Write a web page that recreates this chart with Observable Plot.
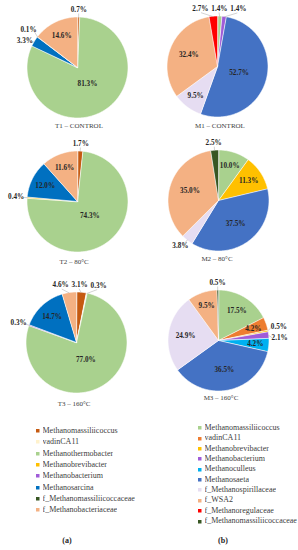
<!DOCTYPE html>
<html><head><meta charset="utf-8">
<script src="https://cdn.jsdelivr.net/npm/d3@7"></script>
<script src="https://cdn.jsdelivr.net/npm/@observablehq/plot@0.6"></script>
<style>
body{margin:0;background:#fff;}
#root{position:relative;width:298px;height:550px;overflow:hidden;font-family:"Liberation Serif","Times New Roman",serif;}
.pie{position:absolute;}
.pie svg{overflow:visible;}
.ttl{position:absolute;width:120px;text-align:center;font-size:7px;line-height:8px;color:#404040;white-space:nowrap;}
.leg{position:absolute;}
.leg, .leg div{font-family:"Liberation Serif","Times New Roman",serif !important;font-size:8px !important;color:#404040;margin:0 !important;}
#legA div div{line-height:11.35px !important;padding:0 !important;}
#legB div div{line-height:10.35px !important;padding:0 !important;}
.leg svg{margin-right:3px !important;}
.cap{position:absolute;width:40px;text-align:center;font-size:8px;font-weight:bold;line-height:9px;color:#262626;}
</style></head><body><div id="root"></div>
<script>
// ---- categories & colours ----
const catsA = ["Methanomassiliicoccus","vadinCA11","Methanothermobacter","Methanobrevibacter","Methanobacterium","Methanosarcina","f_Methanomassiliicoccaceae","f_Methanobacteriaceae"];
const colorsA = ["#C55A11","#FFF2CC","#A9D18E","#FFC000","#A05CD8","#0070C0","#375623","#F4B183"];
const catsB = ["Methanomassiliicoccus","vadinCA11","Methanobrevibacter","Methanobacterium","Methanoculleus","Methanosaeta","f_Methanospirillaceae","f_WSA2","f_Methanoregulaceae","f_Methanomassiliicoccaceae"];
const colorsB = ["#A9D18E","#ED7D31","#FFC000","#A05CD8","#00B0F0","#4472C4","#E6DDF2","#F4B183","#FF0000","#385723"];
// ---- values (% , category order, 0 = absent) ----
const t1 = [0.7,0,81.3,0,0,3.3,0.1,14.6];
const t2 = [1.7,0,74.3,0.4,0,12.0,0,11.6];
const t3 = [3.1,0.3,77.0,0,0.3,14.7,0,4.6];
const m1 = [1.4,0,0,1.4,0,52.7,9.5,32.4,2.7,0];
const m2 = [10.0,0,11.3,0,0,37.5,3.8,35.0,0,2.5];
const m3 = [17.5,4.2,0.5,2.1,4.2,36.5,24.9,9.5,0,0.5];
const titles = ["T1 – CONTROL","M1 – CONTROL","T2 – 80°C","M2 – 80°C","T3 – 160°C","M3 – 160°C"];
const captions = ["(a)","(b)"];

const root = document.getElementById("root");
const R = 50.5, W = 160, H = 140;

function buildPie(values, cats, colors) {
  const total = d3.sum(values);
  let cum = 0;
  const poly = [], labels = [];
  values.forEach((v, i) => {
    if (!(v > 0)) return;
    const a0 = cum / total * 2 * Math.PI; cum += v; const a1 = cum / total * 2 * Math.PI;
    const n = Math.max(2, Math.ceil((a1 - a0) / (Math.PI / 180)));
    poly.push({key: i, cat: cats[i], x: 0, y: 0});
    for (let k = 0; k <= n; k++) {
      const a = a0 + (a1 - a0) * k / n;
      poly.push({key: i, cat: cats[i], x: R * Math.sin(a), y: R * Math.cos(a)});
    }
    const mid = (a0 + a1) / 2, sx = Math.sin(mid), cy = Math.cos(mid);
    const text = v.toFixed(1) + "%";
    const w = text.length * 3.5 + 1, h = 8;
    const outside = v < 4 || (v < 5 && cy > 0.9);
    if (outside) {
      labels.push({text, mid, w, h, outside, x: sx * (R * 1.07) + sx * w / 2, y: cy * (R * 1.07) + cy * h / 2});
    } else {
      const al = (a1 - a0) / 2;
      const c = 2 * Math.sin(al) / (3 * al);
      const rho = Math.min(0.78, Math.max(0.38, 1.1 * c)) * R;
      labels.push({text, mid, w, h, outside, x: sx * rho, y: cy * rho});
    }
  });
  // resolve overlaps between outside labels
  const outs = labels.filter(d => d.outside);
  for (let it = 0; it < 200; it++) {
    let moved = false;
    for (let i = 0; i < outs.length; i++) for (let j = i + 1; j < outs.length; j++) {
      const a = outs[i], b = outs[j];
      const dx = b.x - a.x, dy = b.y - a.y;
      const ox = (a.w + b.w) / 2 + 4 - Math.abs(dx), oy = (a.h + b.h) / 2 + 3 - Math.abs(dy);
      if (ox > 0 && oy > 0) {
        moved = true;
        const vert = Math.abs(Math.cos(a.mid)) > 0.7 && Math.abs(Math.cos(b.mid)) > 0.7;
        if (vert) {
          const s = dx !== 0 ? Math.sign(dx) : Math.sign(Math.sin(b.mid) - Math.sin(a.mid)) || 1;
          a.x -= s * ox / 2; b.x += s * ox / 2;
        } else {
          const s = dy !== 0 ? Math.sign(dy) : Math.sign(Math.cos(b.mid) - Math.cos(a.mid)) || 1;
          a.y -= s * oy / 2; b.y += s * oy / 2;
        }
      }
    }
    if (!moved) break;
  }
  const leaders = outs.map(d => ({
    x1: R * 0.99 * Math.sin(d.mid), y1: R * 0.99 * Math.cos(d.mid),
    x2: d.x - Math.sin(d.mid) * d.w / 2, y2: d.y - Math.cos(d.mid) * d.h / 2
  }));
  return Plot.plot({
    width: W, height: H, margin: 0,
    x: {domain: [-W / 2, W / 2], axis: null},
    y: {domain: [-H / 2, H / 2], axis: null},
    color: {domain: cats, range: colors},
    style: {background: "transparent", overflow: "visible"},
    marks: [
      Plot.line(poly, {x: "x", y: "y", z: "key", fill: "cat", stroke: "white", strokeWidth: 0.6, curve: "linear-closed"}),
      Plot.link(leaders, {x1: "x1", y1: "y1", x2: "x2", y2: "y2", stroke: "#A6A6A6", strokeWidth: 0.5}),
      Plot.text(labels, {x: "x", y: "y", text: "text", fontSize: 7.2, fontWeight: "bold", fontFamily: "Liberation Serif", fill: "#262626"})
    ]
  });
}

const pies = [
  {v: t1, cats: catsA, cols: colorsA, cx: 77, cy: 67, tx: 79, ty: 126},
  {v: m1, cats: catsB, cols: colorsB, cx: 217, cy: 66, tx: 220, ty: 126},
  {v: t2, cats: catsA, cols: colorsA, cx: 77, cy: 201, tx: 74, ty: 262},
  {v: m2, cats: catsB, cols: colorsB, cx: 218, cy: 200, tx: 217, ty: 259},
  {v: t3, cats: catsA, cols: colorsA, cx: 76, cy: 342, tx: 74, ty: 404},
  {v: m3, cats: catsB, cols: colorsB, cx: 218, cy: 340, tx: 221, ty: 398}
];
pies.forEach((p, i) => {
  const d = document.createElement("div");
  d.className = "pie";
  d.style.left = (p.cx - W / 2) + "px";
  d.style.top = (p.cy - H / 2) + "px";
  d.appendChild(buildPie(p.v, p.cats, p.cols));
  root.appendChild(d);
  const t = document.createElement("div");
  t.className = "ttl";
  t.textContent = titles[i];
  t.style.left = (p.tx - 60) + "px";
  t.style.top = (p.ty - 4) + "px";
  root.appendChild(t);
});

function addLegend(id, cats, cols, left, top) {
  const d = document.createElement("div");
  d.className = "leg"; d.id = id;
  d.style.left = left + "px"; d.style.top = top + "px";
  d.appendChild(Plot.legend({color: {domain: cats, range: cols}, legend: "swatches", columns: 1, swatchSize: 3.5}));
  root.appendChild(d);
}
addLegend("legA", catsA, colorsA, 36, 425);
addLegend("legB", catsB, colorsB, 198, 423);

[[67, 540], [223, 540]].forEach(([x, y], i) => {
  const c = document.createElement("div");
  c.className = "cap"; c.textContent = captions[i];
  c.style.left = (x - 20) + "px"; c.style.top = (y - 4.5) + "px";
  root.appendChild(c);
});
</script></body></html>
